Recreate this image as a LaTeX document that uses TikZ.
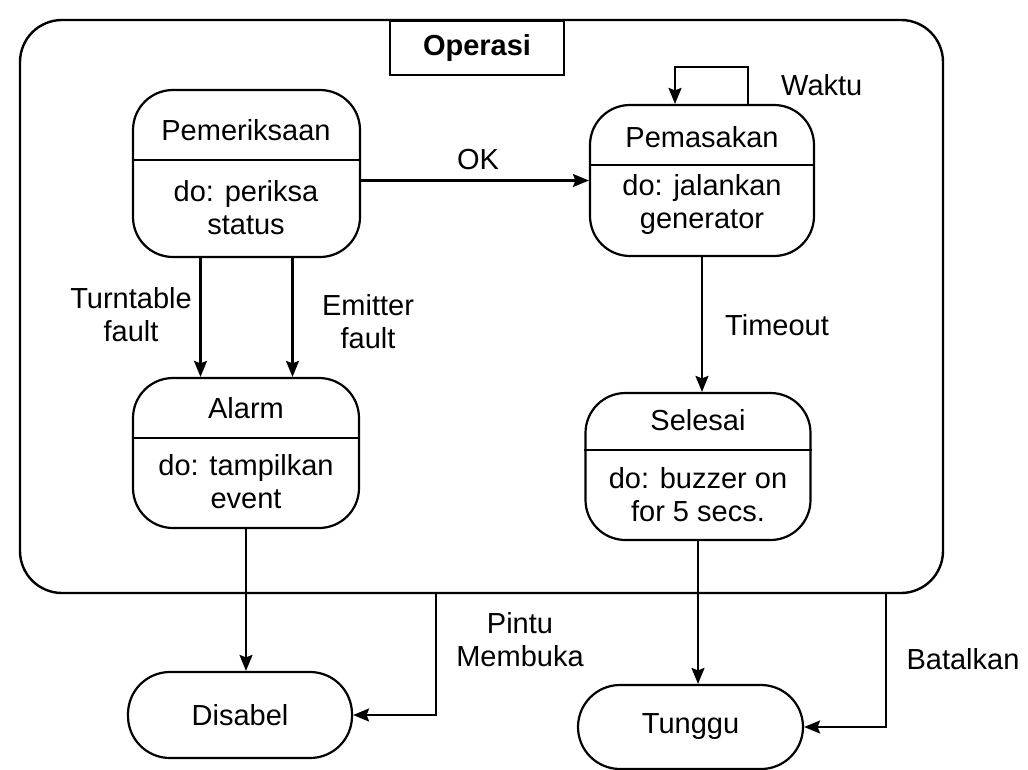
\documentclass[tikz,border=0pt]{standalone}
\usepackage{fontspec}
\setmainfont{Liberation Sans}
\usetikzlibrary{arrows.meta}
\begin{document}
\begin{tikzpicture}[x=1pt,y=-1pt,
  every node/.style={font=\fontsize{29}{33}\selectfont, inner sep=0pt},
  frame/.style={draw, line width=2.4pt, rounded corners=42pt},
  statebox/.style={draw, line width=2.2pt, rounded corners=40pt},
  pillbox/.style={draw, line width=2.2pt, rounded corners=42pt},
  divider/.style={line width=1.5pt},
  arr/.style={line width=2.2pt, -{Stealth[length=16pt,width=13pt,inset=2.5pt]}},
  lbl/.style={align=center}
]
\useasboundingbox (0,0) rectangle (1028,770);

% superstate frame and its name tab
\node[frame, minimum width=923pt, minimum height=573pt] (op) at (481.5,306.5) {};
\node[draw, line width=2.2pt, minimum width=174pt, minimum height=54pt, anchor=north,
      font=\bfseries\fontsize{29}{33}\selectfont] (opname) at (477,20) {Operasi};

% Pemeriksaan
\node[statebox, minimum width=227pt, minimum height=167pt] (pem) at (246.5,173.5) {};
\draw[divider] (pem.west |- 0,160) -- (pem.east |- 0,160);
\node (pemT) at (246,130) {Pemeriksaan};
\node[lbl] (pemB) at (246,208) {do: periksa\\status};

% Pemasakan
\node[statebox, minimum width=224pt, minimum height=151pt] (pms) at (702,180.5) {};
\draw[divider] (pms.west |- 0,165) -- (pms.east |- 0,165);
\node (pmsT) at (702,137) {Pemasakan};
\node[lbl] (pmsB) at (702,205) {do: jalankan\\generator};

% Alarm
\node[statebox, minimum width=226pt, minimum height=150pt] (alarm) at (246,453) {};
\draw[divider] (alarm.west |- 0,438) -- (alarm.east |- 0,438);
\node (alarmT) at (246,408) {Alarm};
\node[lbl] (alarmB) at (246,482) {do: tampilkan\\event};

% Selesai
\node[statebox, minimum width=225pt, minimum height=147pt] (sel) at (698,466.5) {};
\draw[divider] (sel.west |- 0,450) -- (sel.east |- 0,450);
\node (selT) at (698,420) {Selesai};
\node[lbl] (selB) at (698,495) {do: buzzer on\\for 5 secs.};

% outer states
\node[pillbox, minimum width=224pt, minimum height=86pt] (dis) at (240,715) {Disabel};
\node[pillbox, minimum width=225pt, minimum height=84pt] (tun) at (690.5,727) {Tunggu};

% transitions
\draw[arr] (pem.east |- pms.west) -- (pms.west);
\node (okL) at (478,160) {OK};

\draw[arr] ([xshift=46pt]pms.north) -- ++(0,-37) -| ([xshift=-27pt]pms.north);
\node[anchor=west] (waktuL) at (781,85) {Waktu};

\draw[arr] ([xshift=-46pt]pem.south) -- ([xshift=-46pt]pem.south |- alarm.north);
\node[lbl] (ttL) at (131,315) {Turntable\\fault};
\draw[arr] ([xshift=46pt]pem.south) -- ([xshift=46pt]pem.south |- alarm.north);
\node[lbl] (emL) at (368,322) {Emitter\\fault};

\draw[arr] (pms.south) -- (pms.south |- sel.north);
\node (toL) at (777,325) {Timeout};

\draw[arr] (alarm.south) -- (alarm.south |- dis.north);
\draw[arr] (sel.south) -- (sel.south |- tun.north);

\coordinate (pintu) at (436,593);
\draw[arr] (pintu) |- (dis.east);
\node[lbl] (pintuL) at (520,640) {Pintu\\Membuka};

\coordinate (batal) at (886,593);
\draw[arr] (batal) |- (tun.east);
\node (batalL) at (963,659) {Batalkan};
\end{tikzpicture}
\end{document}
